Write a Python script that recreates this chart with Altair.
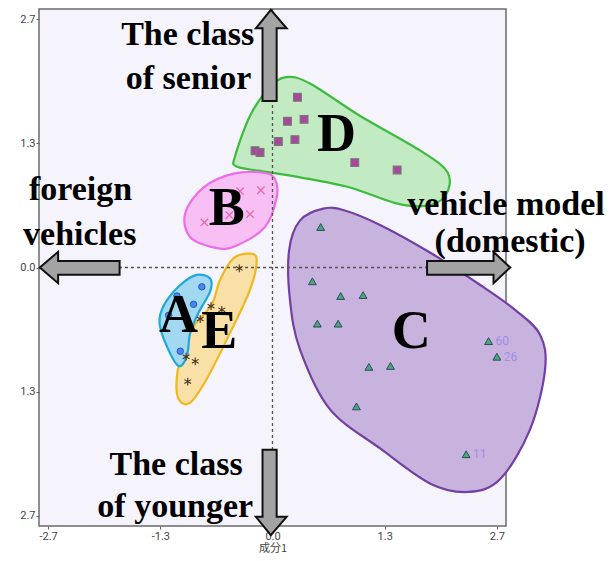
import altair as alt
import pandas as pd

# ---- cluster points (component 1, component 2) ----
a_x = [-0.85, -1.15, -0.95, -1.25, -1.11]
a_y = [-0.21, -0.31, -0.40, -0.52, -0.91]
b_x = [-0.39, -0.14, -0.52, -0.27, -0.82]
b_y = [0.83, 0.84, 0.57, 0.58, 0.49]
c_x = [0.58, 0.48, 0.82, 1.09, 0.54, 0.79, 2.60, 2.70, 1.16, 1.42, 1.01, 2.33]
c_y = [0.44, -0.15, -0.31, -0.30, -0.61, -0.61, -0.80, -0.97, -1.08, -1.07, -1.51, -2.03]
c_lab = ["", "", "", "", "", "", "60", "26", "", "", "", "11"]
d_x = [0.30, 0.18, 0.38, 0.07, 0.27, -0.21, -0.15, 0.99, 1.50]
d_y = [1.85, 1.59, 1.61, 1.37, 1.39, 1.27, 1.25, 1.14, 1.06]
e_x = [-0.40, -0.74, -0.61, -0.87, -1.04, -0.93, -1.02]
e_y = [-0.01, -0.42, -0.46, -0.56, -0.97, -1.02, -1.24]

# ---- cluster outlines ----
hull_a_x = [-0.75, -0.91, -1.11, -1.30, -1.36, -1.27, -1.13, -1.03, -0.99, -0.89, -0.75]
hull_a_y = [-0.12, -0.08, -0.19, -0.40, -0.60, -0.86, -1.07, -0.96, -0.71, -0.49, -0.26]
hull_b_x = [0.03, -0.11, -0.47, -0.83, -1.05, -0.99, -0.67, -0.43, -0.09, 0.05]
hull_b_y = [0.96, 1.03, 1.02, 0.87, 0.59, 0.33, 0.21, 0.24, 0.44, 0.76]
hull_c_x = [0.61, 0.33, 0.20, 0.21, 0.33, 0.69, 1.30, 1.90, 2.36, 2.74, 3.10, 3.28, 3.22, 2.92, 2.50, 1.90, 1.30, 0.87]
hull_c_y = [0.64, 0.51, 0.19, -0.35, -0.89, -1.54, -1.97, -2.35, -2.44, -2.30, -1.76, -1.11, -0.73, -0.46, -0.19, 0.16, 0.46, 0.62]
hull_d_x = [0.16, 0.45, 1.05, 1.78, 2.11, 2.08, 1.84, 1.48, 0.93, 0.33, -0.15, -0.44, -0.45, -0.27, -0.05]
hull_d_y = [2.07, 2.00, 1.65, 1.27, 1.03, 0.78, 0.67, 0.70, 0.87, 0.98, 1.05, 1.10, 1.21, 1.65, 1.94]
hull_e_x = [-0.27, -0.19, -0.27, -0.51, -0.79, -0.99, -1.13, -1.15, -1.07, -0.95, -0.73, -0.63, -0.47]
hull_e_y = [0.15, 0.08, -0.24, -0.71, -1.21, -1.47, -1.43, -1.18, -0.89, -0.64, -0.40, -0.13, 0.10]

# ---- direction arrows ----
up_x = [-0.12, 0.05, 0.05, 0.17, -0.02, -0.20, -0.12]
up_y = [1.81, 1.81, 2.60, 2.60, 2.80, 2.60, 2.60]
down_x = [-0.12, 0.05, 0.05, 0.17, -0.02, -0.20, -0.12]
down_y = [-1.98, -1.98, -2.71, -2.71, -2.91, -2.71, -2.71]
left_x = [-1.84, -2.58, -2.58, -2.80, -2.58, -2.58, -1.84]
left_y = [0.07, 0.07, 0.17, 0.0, -0.17, -0.08, -0.08]
right_x = [1.86, 2.66, 2.66, 2.86, 2.66, 2.66, 1.86]
right_y = [0.07, 0.07, 0.17, 0.0, -0.17, -0.08, -0.08]

# ---- texts ----
cluster_names = ["A", "B", "C", "D", "E"]
cluster_lx = [-1.13, -0.55, 1.67, 0.77, -0.64]
cluster_ly = [-0.70, 0.46, -0.87, 1.27, -0.87]
note_text = ["The class", "of senior", "foreign", "vehicles", "vehicle model", "(domestic)", "The class", "of younger"]
note_x = [-1.02, -1.01, -2.31, -2.32, 2.81, 2.86, -1.16, -1.17]
note_y = [2.42, 1.94, 0.73, 0.24, 0.57, 0.17, -2.26, -2.71]

x_tick_vals = [-2.7, -1.35, 0.0, 1.35, 2.7]
x_tick_labels = ["-2.7", "-1.3", "0.0", "1.3", "2.7"]
y_tick_vals = [2.7, 1.35, 0.0, -1.35, -2.7]
y_tick_labels = ["2.7", "1.3", "0.0", "1.3", "2.7"]
x_title = "成分1"


def label_expr(vals, labels):
    expr = "''"
    for v, l in zip(reversed(vals), reversed(labels)):
        expr = f"abs(datum.value - ({v})) < 0.01 ? '{l}' : ({expr})"
    return expr


axis_common = dict(labelFont="Roboto", labelFontSize=11, labelColor="#444",
                   tickColor="#666", tickSize=3, domain=False, grid=False,
                   labelPadding=1)
X = alt.X("x:Q", scale=alt.Scale(domain=[-2.81, 2.81], nice=False, zero=False),
          axis=alt.Axis(values=x_tick_vals, labelExpr=label_expr(x_tick_vals, x_tick_labels),
                        title=x_title, titleFont="Noto Sans CJK JP", titleFontSize=11,
                        titleFontWeight="normal", titleColor="#444",
                        titleY=25, titleBaseline="alphabetic",
                        **axis_common))
Y = alt.Y("y:Q", scale=alt.Scale(domain=[-2.81, 2.81], nice=False, zero=False),
          axis=alt.Axis(values=y_tick_vals, labelExpr=label_expr(y_tick_vals, y_tick_labels),
                        title=None, **axis_common))


def poly(xs, ys, fill, stroke, width, interp):
    df = pd.DataFrame({"x": xs, "y": ys, "i": list(range(len(xs)))})
    return alt.Chart(df).mark_line(interpolate=interp, fill=fill, stroke=stroke,
                                   strokeWidth=width, fillOpacity=1, clip=False).encode(
        x=X, y=Y, order=alt.Order("i:Q"))


blobs = [
    poly(hull_d_x, hull_d_y, "#c3ebc3", "#3dbb3d", 2.2, "cardinal-closed"),
    poly(hull_b_x, hull_b_y, "#f7bff4", "#ec6ee6", 2.2, "cardinal-closed"),
    poly(hull_c_x, hull_c_y, "#c8b3de", "#7140a2", 2.2, "cardinal-closed"),
    poly(hull_e_x, hull_e_y, "#f9e0a6", "#f0b820", 2.2, "cardinal-closed"),
    poly(hull_a_x, hull_a_y, "#a2d8f2", "#1ea8d8", 2.2, "cardinal-closed"),
]

zero_v = alt.Chart(pd.DataFrame({"x": [0.0]})).mark_rule(
    color="#555", strokeDash=[3, 3], strokeWidth=1.3).encode(x=X)
zero_h = alt.Chart(pd.DataFrame({"y": [0.0]})).mark_rule(
    color="#555", strokeDash=[3, 3], strokeWidth=1.3).encode(y=Y)

pa = alt.Chart(pd.DataFrame({"x": a_x, "y": a_y})).mark_point(
    shape="circle", filled=True, size=42, fill="#4a84ee", stroke="#2a5cb5",
    strokeWidth=1, opacity=1).encode(x=X, y=Y)
pb = alt.Chart(pd.DataFrame({"x": b_x, "y": b_y})).mark_point(
    shape="M-1,-1L1,1M-1,1L1,-1", filled=False, size=55, stroke="#e56aa8",
    strokeWidth=1.3, opacity=1).encode(x=X, y=Y)
pc = alt.Chart(pd.DataFrame({"x": c_x, "y": c_y})).mark_point(
    shape="triangle-up", filled=True, size=62, fill="#4aa872", stroke="#2e4a6a",
    strokeWidth=1, opacity=1).encode(x=X, y=Y)
pd_ = alt.Chart(pd.DataFrame({"x": d_x, "y": d_y})).mark_point(
    shape="square", filled=True, size=60, fill="#ab469f", stroke="#777",
    strokeWidth=1.2, opacity=1).encode(x=X, y=Y)
pe = alt.Chart(pd.DataFrame({"x": e_x, "y": e_y})).mark_point(
    shape="M0,-1L0,1M-0.87,-0.5L0.87,0.5M-0.87,0.5L0.87,-0.5", filled=False, size=60,
    stroke="#4a3520", strokeWidth=1.1, opacity=1).encode(x=X, y=Y)

clab_df = pd.DataFrame({"x": c_x, "y": c_y, "t": c_lab})
clab = alt.Chart(clab_df).transform_filter("datum.t != ''").mark_text(
    align="left", baseline="middle", dx=7, fontSize=12, font="Roboto",
    color="#9d8ee6").encode(x=X, y=Y, text="t:N")

arrows = [
    poly(up_x, up_y, "#a3a3a3", "#111", 2, "linear-closed"),
    poly(down_x, down_y, "#a3a3a3", "#111", 2, "linear-closed"),
    poly(left_x, left_y, "#a3a3a3", "#111", 2, "linear-closed"),
    poly(right_x, right_y, "#a3a3a3", "#111", 2, "linear-closed"),
]

cl = alt.Chart(pd.DataFrame({"x": cluster_lx, "y": cluster_ly, "t": cluster_names})).mark_text(
    font="Liberation Serif", fontWeight="bold", fontSize=54, align="center",
    baseline="alphabetic", color="black").encode(x=X, y=Y, text="t:N")

notes = alt.Chart(pd.DataFrame({"x": note_x, "y": note_y, "t": note_text})).mark_text(
    font="Liberation Serif", fontWeight="bold", fontSize=34, align="center",
    baseline="alphabetic", color="black").encode(x=X, y=Y, text="t:N")

chart = alt.layer(*blobs, zero_v, zero_h, pd_, pb, pa, pe, pc, clab, *arrows, cl, notes).properties(
    width=467, height=517,
    autosize=alt.AutoSizeParams(type="none"),
    padding={"left": 31, "top": 1, "right": 100, "bottom": 27},
    background="white",
).configure_view(fill="#f5f4fc", stroke="#6b6b6b", strokeWidth=1.5)

chart.save("out.html", embed_options={"renderer": "svg", "actions": False})
